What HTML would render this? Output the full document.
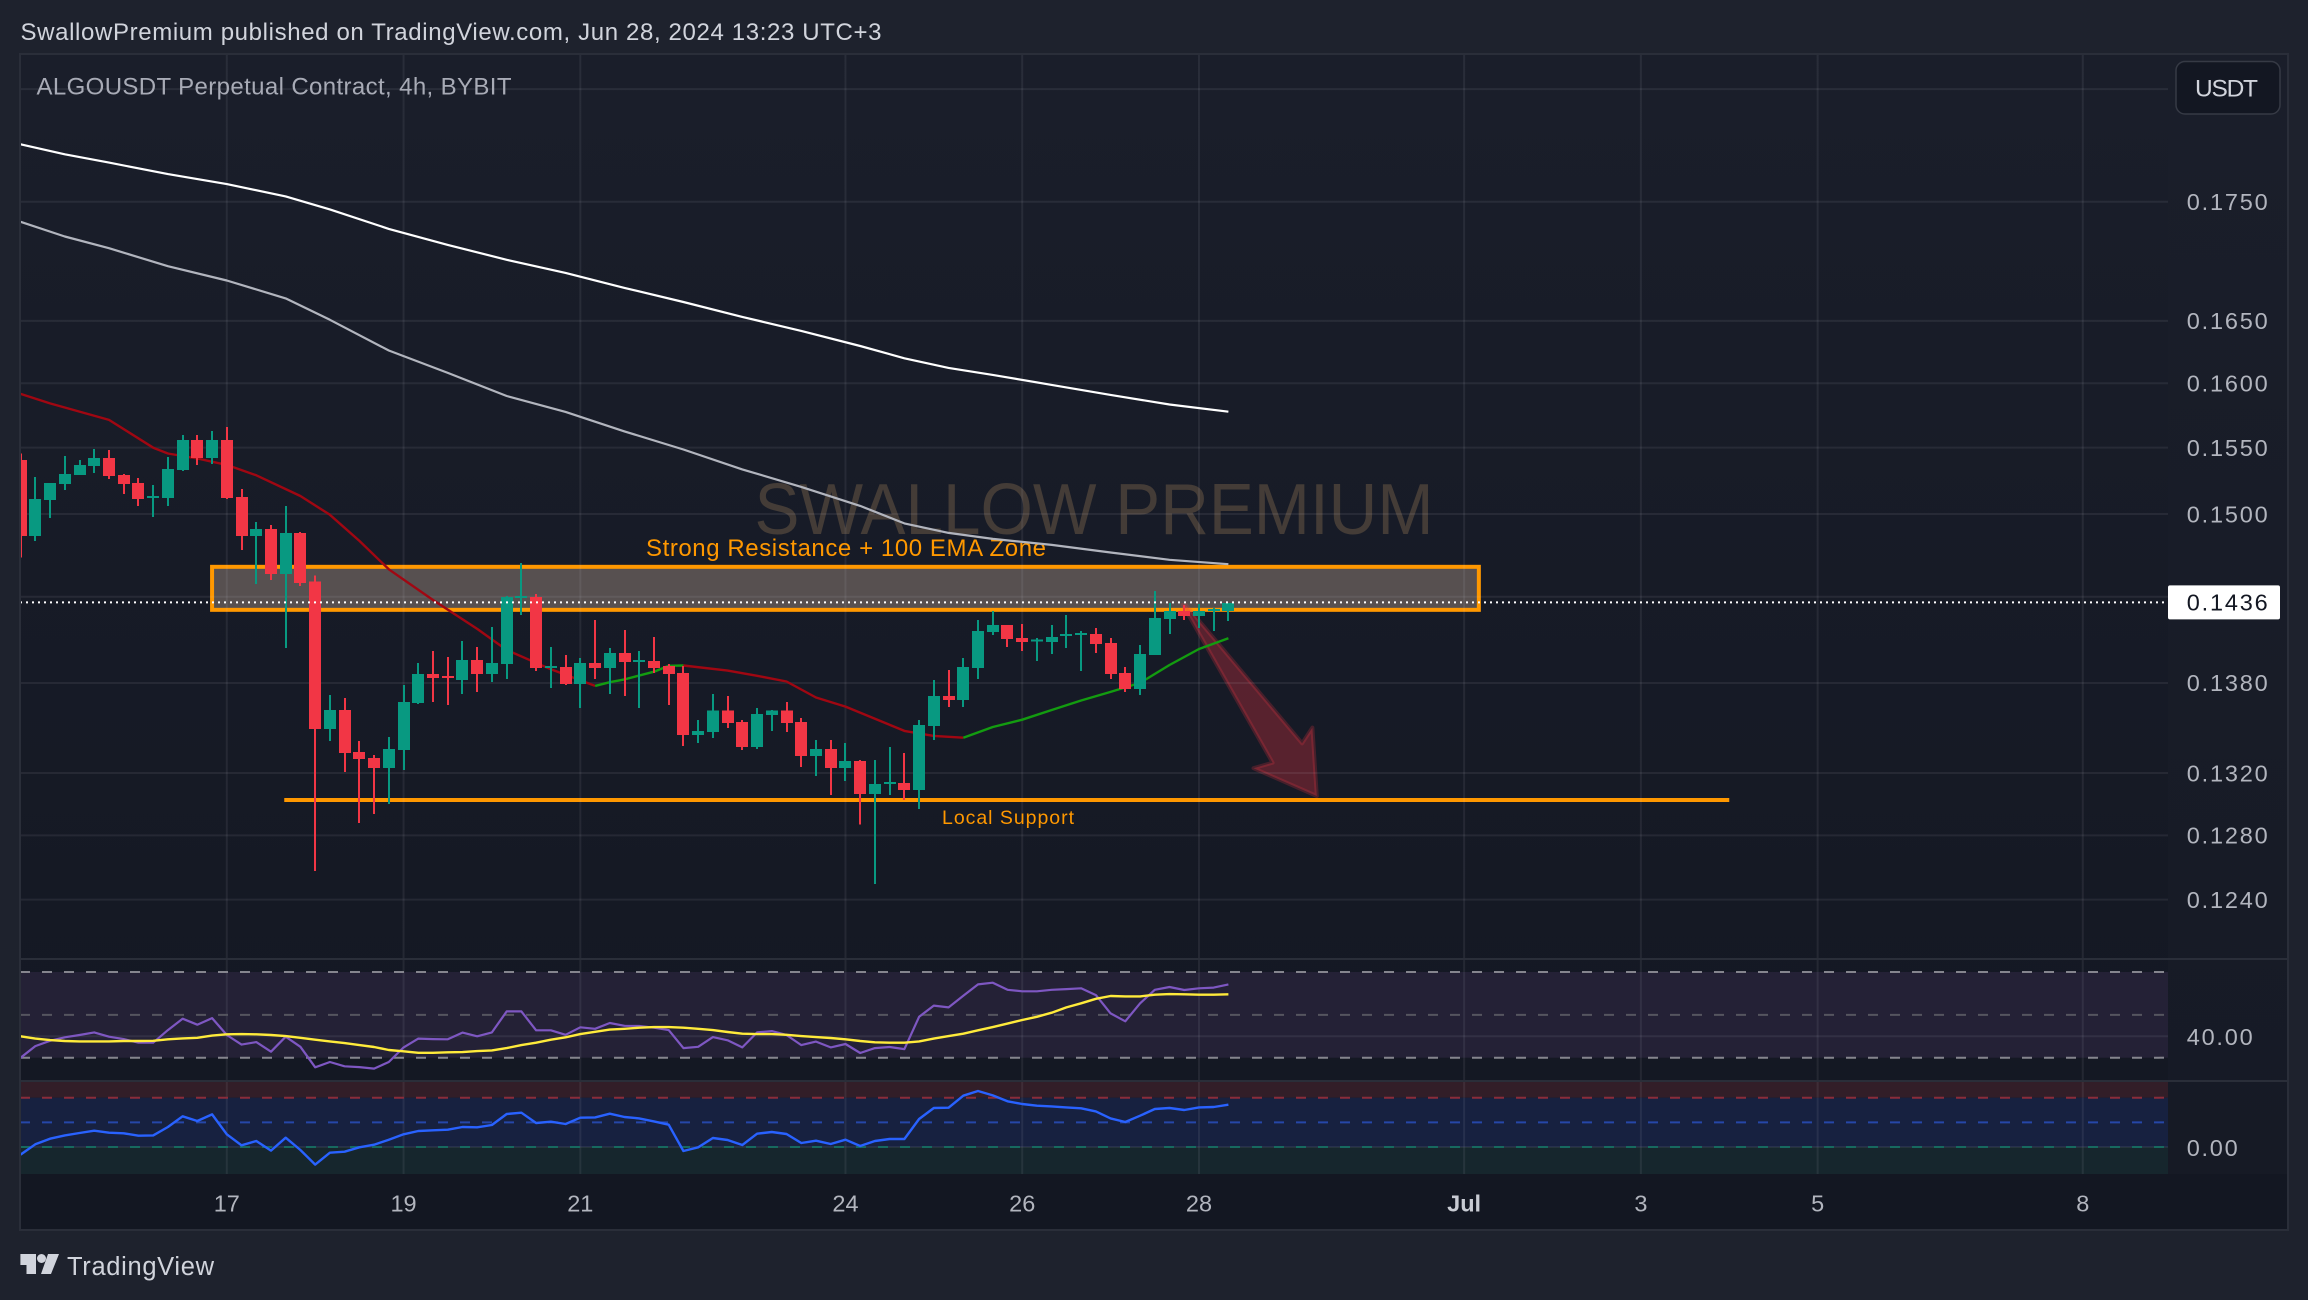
<!DOCTYPE html>
<html lang="en">
<head>
<meta charset="utf-8">
<title>ALGOUSDT Perpetual Contract, 4h, BYBIT</title>
<style>
html,body{margin:0;padding:0;background:#1e222d;width:2308px;height:1300px;overflow:hidden}
svg{display:block}
text{font-family:"Liberation Sans",sans-serif}
</style>
</head>
<body>
<svg id="chart" width="2308" height="1300" viewBox="0 0 2308 1300" xmlns="http://www.w3.org/2000/svg">
  <defs>
    <linearGradient id="paneBg" x1="0" y1="0" x2="0" y2="1">
      <stop offset="0" stop-color="#1a1e2a"/>
      <stop offset="1" stop-color="#131722"/>
    </linearGradient>
    <linearGradient id="axisBg" x1="0" y1="0" x2="0" y2="1">
      <stop offset="0" stop-color="#1a1e2a"/>
      <stop offset="1" stop-color="#161a25"/>
    </linearGradient>
    <clipPath id="mainClip"><rect x="20" y="55" width="2148" height="904"/></clipPath>
    <clipPath id="rsiClip"><rect x="20" y="960" width="2148" height="120"/></clipPath>
    <clipPath id="oscClip"><rect x="20" y="1082" width="2148" height="92"/></clipPath>
  </defs>

  <rect x="0" y="0" width="2308" height="1300" fill="#1e222d"/>
  <rect x="20" y="54" width="2268" height="1176" fill="url(#paneBg)"/>
  <rect x="2168" y="55" width="120" height="1119" fill="url(#axisBg)"/>
  <rect x="20" y="1174" width="2268" height="56" fill="#131722"/>

  <g id="bands"></g>
  <text x="754.5" y="534" font-size="72" fill="#443c37" textLength="679" lengthAdjust="spacingAndGlyphs">SWALLOW PREMIUM</text>
  <g id="drawings" clip-path="url(#mainClip)"></g>
  <g id="grid"></g>
  <g id="levels"></g>

  <text x="646" y="556" font-size="24" fill="#ff9800" textLength="400">Strong Resistance + 100 EMA Zone</text>
  <text x="942" y="824" font-size="19.5" fill="#ff9800" textLength="132">Local Support</text>

  <g id="emaLines" clip-path="url(#mainClip)"></g>
  <g id="candles" clip-path="url(#mainClip)" shape-rendering="crispEdges"></g>
  <g id="lastLine"></g>
  <g id="rsiPane" clip-path="url(#rsiClip)"></g>
  <g id="oscPane" clip-path="url(#oscClip)"></g>
  <g id="priceAxis"></g>
  <g id="timeAxis"></g>

  <g stroke="#2a2e39" stroke-width="2" fill="none">
    <rect x="20" y="54" width="2268" height="1176"/>
    <line x1="20" y1="959" x2="2288" y2="959"/>
    <line x1="20" y1="1081" x2="2288" y2="1081"/>
  </g>

  <text x="20.5" y="40" font-size="24" fill="#d1d4dc" textLength="861">SwallowPremium published on TradingView.com, Jun 28, 2024 13:23 UTC+3</text>
  <text x="36.5" y="94.5" font-size="24" fill="#a8abb6" textLength="475">ALGOUSDT Perpetual Contract, 4h, BYBIT</text>

  <g>
    <rect x="2176" y="61.5" width="104" height="52.5" rx="9" fill="#131722" stroke="#363a45" stroke-width="1.5"/>
    <text x="2195" y="96.5" font-size="24.5" fill="#d1d4dc" textLength="63">USDT</text>
  </g>

  <g fill="#d1d4dc">
    <polygon points="20.4,1254 36,1254 36,1274 26.5,1274 26.5,1265 20.4,1265"/>
    <circle cx="41.5" cy="1258.5" r="4.5"/>
    <polygon points="48,1254 59,1254 51,1274 41,1274"/>
    <text x="67" y="1275" font-size="25.5" textLength="147">TradingView</text>
  </g>

<script>
// ---- candle data (ALGOUSDT 4h), first bar index relative to 17 Jun 00:00 ----
const firstBar = -14;
const opens = [.15406,.14839,.15104,.15225,.15293,.15361,.15421,.15293,.15232,.15119,.15119,.15331,.15558,.15421,.15558,.15127,.14839,.14890,.14564,.14861,.14507,.13490,.13617,.13337,.13298,.13233,.13350,.13664,.13862,.13848,.13821,.13958,.13862,.13930,.14391,.14399,.13903,.13910,.13793,.13937,.13903,.14005,.13944,.13951,.13917,.13869,.13450,.13470,.13613,.13537,.13370,.13583,.13613,.13537,.13311,.13357,.13233,.13279,.13064,.13129,.13135,.13090,.13510,.13711,.13684,.13903,.14152,.14201,.14110,.14085,.14082,.14124,.14131,.14138,.14075,.13869,.13759,.13992,.14244,.14300,.14265,.14300,.14300];
const highs = [.15456,.15275,.15232,.15436,.15406,.15489,.15481,.15300,.15270,.15217,.15429,.15597,.15597,.15628,.15659,.15187,.14942,.14920,.15060,.14868,.14550,.13718,.13698,.13410,.13317,.13437,.13786,.13937,.14019,.13978,.14089,.14047,.14187,.14406,.14643,.14420,.14047,.13992,.13971,.14237,.14040,.14166,.14019,.14117,.13930,.13917,.13550,.13725,.13711,.13550,.13630,.13617,.13671,.13564,.13417,.13417,.13397,.13285,.13285,.13370,.13330,.13550,.13821,.13889,.13971,.14237,.14300,.14201,.14208,.14110,.14201,.14272,.14159,.14180,.14110,.13910,.14061,.14442,.14356,.14342,.14349,.14321,.14356];
const lows = [.14681,.14803,.14972,.15179,.15293,.15308,.15263,.15149,.15060,.14979,.15060,.15323,.15368,.15376,.15112,.14736,.14492,.14521,.14040,.14478,.12577,.13410,.13207,.12879,.12936,.13000,.13220,.13657,.13671,.13651,.13725,.13739,.13807,.13827,.14272,.13882,.13766,.13787,.13630,.13828,.13725,.13711,.13630,.13869,.13651,.13377,.13397,.13430,.13497,.13350,.13357,.13477,.13470,.13239,.13181,.13058,.13148,.12870,.12497,.13058,.13025,.12968,.13417,.13637,.13637,.13828,.14131,.14047,.14019,.13951,.13999,.14040,.13883,.14005,.13828,.13739,.13718,.13992,.14138,.14237,.14180,.14159,.14230];
const closes = [.14839,.15112,.15232,.15300,.15368,.15421,.15285,.15225,.15112,.15134,.15338,.15558,.15421,.15558,.15119,.14839,.14890,.14564,.14861,.14499,.13490,.13617,.13330,.13291,.13233,.13357,.13671,.13862,.13834,.13834,.13958,.13862,.13937,.14399,.14406,.13903,.13917,.13793,.13937,.13903,.14005,.13944,.13958,.13903,.13862,.13450,.13477,.13613,.13531,.13370,.13591,.13613,.13531,.13311,.13357,.13233,.13279,.13064,.13129,.13142,.13090,.13517,.13711,.13684,.13910,.14159,.14201,.14103,.14082,.14099,.14117,.14138,.14145,.14068,.13862,.13759,.13999,.14251,.14300,.14265,.14300,.14314,.14356];

// ---- moving averages ----
const emaBars = [-14,-11,-8,-4,0,4,7,11,15,19,23,27,31,35,39,43,46,49,52,56,60,64,68];
const ema200 = [.18003,.17914,.17841,.17740,.17653,.17546,.17434,.17267,.17131,.17005,.16896,.16771,.16655,.16533,.16419,.16297,.16198,.16122,.16066,.15987,.15908,.15833,.15777];
const ema100 = [.17327,.17202,.17103,.16952,.16832,.16684,.16509,.16261,.16082,.15900,.15775,.15624,.15485,.15334,.15202,.15060,.14931,.14861,.14817,.14773,.14718,.14665,.14633];
const ema50Bars = [-14,-12,-8,-5,-4,-2,0,2,5,7,9,11,14,17,19,22,25,26,27,29,30,31,34,36,38,40,42,46,48,50,52,54,56,58,60,62,64,66,68];
const ema50 = [.15916,.15842,.15713,.15499,.15455,.15417,.15368,.15289,.15134,.14994,.14802,.14596,.14377,.14173,.14026,.13893,.13780,.13805,.13824,.13877,.13917,.13919,.13884,.13849,.13810,.13701,.13640,.13477,.13444,.13432,.13503,.13552,.13617,.13681,.13739,.13800,.13923,.14033,.14108];

// ---- indicators (one value per bar) ----
const rsiValues = [30.0,35.4,37.9,39.5,40.6,41.8,39.8,38.7,37.0,37.0,42.9,48.2,45.4,48.5,40.6,36.1,37.3,32.8,39.8,35.1,25.5,28.0,26.0,25.6,24.9,28.0,34.8,38.9,38.7,38.6,41.7,40.0,41.8,51.6,51.6,42.8,42.8,40.7,44.2,43.5,46.2,44.9,44.8,44.0,42.9,34.5,35.1,39.6,38.1,34.8,41.8,42.4,40.6,35.9,37.5,34.8,36.4,32.2,34.5,35.0,34.0,49.1,54.3,53.5,58.9,64.2,65.0,61.7,61.0,61.0,61.7,62.0,62.4,59.2,50.7,47.0,55.4,61.7,63.0,61.6,62.4,62.7,64.2];
const rsiSignal = [40.0,38.9,38.2,37.8,37.6,37.6,37.6,37.8,37.8,37.9,38.6,39.0,39.3,40.3,40.9,41.0,40.9,40.6,40.1,39.3,38.4,37.6,36.8,35.9,35.0,33.6,33.0,32.3,32.3,32.5,32.6,33.1,33.4,34.5,35.9,37.0,38.4,39.5,41.0,42.1,43.1,43.5,44.0,44.3,44.3,44.0,43.5,42.9,42.0,41.2,41.0,41.0,40.7,40.1,39.6,39.2,38.6,37.8,37.2,37.0,37.0,37.6,38.9,40.1,41.2,42.8,44.3,45.9,47.6,49.1,51.0,53.5,55.4,57.5,58.8,58.6,58.6,59.4,59.7,59.6,59.4,59.4,59.6];
const oscValues = [-15.5,5.4,16.9,23.6,28.4,33.1,29.1,27.7,23.0,23.6,40.5,62.2,52.7,66.2,25.7,3.4,12.2,-7.4,18.9,-6.1,-35.8,-11.5,-9.5,-0.7,4.7,14.9,25.7,32.4,33.8,35.1,40.5,39.9,44.6,66.9,69.6,48.6,51.4,46.6,59.5,60.1,67.6,60.8,58.1,52.0,45.3,-8.1,-0.7,18.2,14.2,4.1,27.0,30.4,26.4,8.1,12.8,6.1,14.9,2.0,12.2,16.2,16.2,56.8,79.1,79.7,104.1,113.5,104.7,92.6,87.2,83.8,82.4,80.4,78.4,72.3,58.1,50.7,63.5,77.0,79.1,75.0,80.4,81.1,85.8];

// ---- axes ----
const gridPrices = [.185,.175,.165,.16,.155,.15,.144,.138,.132,.128,.124];
const priceTicks = [.175,.165,.16,.155,.15,.138,.132,.128,.124];
const timeDays = [17,19,21,24,26,28,31,33,35,38];
const timeLabels = ['17','19','21','24','26','28','Jul','3','5','8'];
const rsiTicks = [40];
const oscTicks = [0];
const rsiBandLevels = [70,30];
const rsiLevels = [70,50,30];
const oscLevels = [100,50,0];

// ---- drawings in bar/price units ----
const lastPrice = 0.1436;
const zoneBars = [-1,85];
const zonePrices = [.14614,.14307];
const supportBars = [3.9,102];
const supportPrice = 0.13025;
const arrowBars = [65.1,73,73.7,74,69.7,71,64.9];
const arrowPrices = [.14342,.13395,.13499,.13051,.13231,.13267,.14342];

const NS = 'http://www.w3.org/2000/svg';
function xDay(d){ return 226.8 + (d - 17) * 88.38; }
function xBar(b){ return xDay(17 + b / 6); }
function yPrice(p){ return 201.7 + 2026 * Math.log(0.175 / p); }
function yRsi(v){ return 1057.7 - (v - 30) * 2.1425; }
function yOsc(v){ return 1147 - v * 0.493; }
function make(parent, tag, attrs, txt){
  const el = document.createElementNS(NS, tag);
  for (const k in attrs) el.setAttribute(k, attrs[k]);
  if (txt !== undefined) el.textContent = txt;
  parent.appendChild(el);
  return el;
}
function pathOf(xs, ys){
  return xs.map((x, i) => (i ? 'L' : 'M') + x.toFixed(1) + ' ' + ys[i].toFixed(1)).join('');
}
const byId = id => document.getElementById(id);
const allBars = opens.map((_, i) => firstBar + i);

// bands
const bandsG = byId('bands');
let el = make(bandsG, 'rect', {x:20, y:yRsi(rsiBandLevels[0]), width:2148, height:yRsi(rsiBandLevels[1]) - yRsi(rsiBandLevels[0]), fill:'#242136'});


el = make(bandsG, 'rect', {x:20, y:1082, width:2148, height:yOsc(oscLevels[0]) - 1082, fill:'#321e28'});


el = make(bandsG, 'rect', {x:20, y:yOsc(oscLevels[0]), width:2148, height:yOsc(oscLevels[2]) - yOsc(oscLevels[0]), fill:'#172140'});


el = make(bandsG, 'rect', {x:20, y:yOsc(oscLevels[2]), width:2148, height:1174 - yOsc(oscLevels[2]), fill:'#16262d'});



// drawings (below candles)
const drawG = byId('drawings');
el = make(drawG, 'rect', {x:xBar(zoneBars[0]), y:yPrice(zonePrices[0]), width:xBar(zoneBars[1]) - xBar(zoneBars[0]), height:yPrice(zonePrices[1]) - yPrice(zonePrices[0]), fill:'rgba(235,205,180,0.3)', stroke:'#ff9800', 'stroke-width':4});


el = make(drawG, 'line', {x1:xBar(supportBars[0]), x2:xBar(supportBars[1]), y1:yPrice(supportPrice), y2:yPrice(supportPrice), stroke:'#ff9800', 'stroke-width':4});


el = make(drawG, 'polygon', {points:arrowBars.map((b, i) => xBar(b).toFixed(1) + ',' + yPrice(arrowPrices[i]).toFixed(1)).join(' '), fill:'rgba(242,54,69,0.3)', stroke:'rgba(242,54,69,0.22)', 'stroke-width':4, 'stroke-linejoin':'round'});



// grid
const gridG = byId('grid');
const gridColor = 'rgba(209,212,220,0.085)';
gridPrices.forEach(p => {
  const g = make(gridG, 'line', {x1:20, x2:2168, y1:yPrice(p), y2:yPrice(p), stroke:gridColor, 'stroke-width':2});
  
  
});
timeDays.forEach(d => {
  const g = make(gridG, 'line', {x1:xDay(d), x2:xDay(d), y1:54, y2:1174, stroke:gridColor, 'stroke-width':2});
  
  
});
rsiTicks.forEach(v => {
  const g = make(gridG, 'line', {x1:20, x2:2168, y1:yRsi(v), y2:yRsi(v), stroke:gridColor, 'stroke-width':2});
  
  
});
oscTicks.forEach(v => {
  const g = make(gridG, 'line', {x1:20, x2:2168, y1:yOsc(v), y2:yOsc(v), stroke:gridColor, 'stroke-width':2});
  
  
});

// indicator level dashes
const levelG = byId('levels');
const rsiLevelColors = ['#85858e','#55555f','#85858e'];
rsiLevels.forEach((v, i) => {
  const l = make(levelG, 'line', {x1:20, x2:2168, y1:yRsi(v), y2:yRsi(v), stroke:rsiLevelColors[i], 'stroke-width':2, 'stroke-dasharray':'10 12'});
  
  
});
const oscLevelColors = ['#8a2c3a','#2647a8','#17695f'];
oscLevels.forEach((v, i) => {
  const l = make(levelG, 'line', {x1:20, x2:2168, y1:yOsc(v), y2:yOsc(v), stroke:oscLevelColors[i], 'stroke-width':2, 'stroke-dasharray':'10 12'});
  
  
});

// EMAs
const emaG = byId('emaLines');
el = make(emaG, 'path', {d:pathOf(emaBars.map(xBar), ema200.map(yPrice)), fill:'none', stroke:'#ffffff', 'stroke-width':2.2, 'stroke-linejoin':'round'});


el = make(emaG, 'path', {d:pathOf(emaBars.map(xBar), ema100.map(yPrice)), fill:'none', stroke:'#b2b5be', 'stroke-width':2.2, 'stroke-linejoin':'round'});


// EMA 50 is coloured by slope: green while rising, red while falling
let runStart = 0;
for (let i = 1; i < ema50.length; i++) {
  const rising = ema50[i] >= ema50[i - 1];
  const nextRising = i + 1 < ema50.length ? ema50[i + 1] >= ema50[i] : rising;
  if (i === ema50.length - 1 || nextRising !== rising) {
    const seg = make(emaG, 'path', {
      d: pathOf(ema50Bars.slice(runStart, i + 1).map(xBar), ema50.slice(runStart, i + 1).map(yPrice)),
      fill:'none', stroke: rising ? '#139c10' : '#a00712', 'stroke-width':2.4, 'stroke-linejoin':'round'
    });
    
    
    runStart = i;
  }
}

// candles
const candleG = byId('candles');
allBars.forEach((b, i) => {
  const up = closes[i] >= opens[i];
  const color = up ? '#089981' : '#f23645';
  const x = Math.round(xBar(b));
  const top = yPrice(Math.max(opens[i], closes[i]));
  const bot = yPrice(Math.min(opens[i], closes[i]));
  const grp = make(candleG, 'g', {fill:color});
  
  
  const wick = make(grp, 'rect', {x:x - 1, width:2, y:yPrice(highs[i]), height:yPrice(lows[i]) - yPrice(highs[i])});
  
  
  const body = make(grp, 'rect', {x:x - 6, width:12, y:top, height:Math.max(2, bot - top)});
  
  
});

// last price line
el = make(byId('lastLine'), 'line', {x1:20, x2:2168, y1:yPrice(lastPrice), y2:yPrice(lastPrice), stroke:'#ffffff', 'stroke-width':2, 'stroke-dasharray':'2 4'});



// RSI pane
el = make(byId('rsiPane'), 'path', {d:pathOf(allBars.map(xBar), rsiValues.map(yRsi)), fill:'none', stroke:'#7e57c2', 'stroke-width':2.2, 'stroke-linejoin':'round'});


el = make(byId('rsiPane'), 'path', {d:pathOf(allBars.map(xBar), rsiSignal.map(yRsi)), fill:'none', stroke:'#ffeb3b', 'stroke-width':2.4, 'stroke-linejoin':'round'});



// oscillator pane
el = make(byId('oscPane'), 'path', {d:pathOf(allBars.map(xBar), oscValues.map(yOsc)), fill:'none', stroke:'#2962ff', 'stroke-width':2.4, 'stroke-linejoin':'round'});



// price axis
const axisG = byId('priceAxis');
const axisColor = '#b2b5be';
function axisWidth(s){ return 15 * (s.length - 1) + 6; }
priceTicks.forEach(p => {
  const s = p.toFixed(4);
  const t = make(axisG, 'text', {x:2186.7, y:yPrice(p) + 8.3, 'font-size':23.5, fill:axisColor, textLength:axisWidth(s)}, s);
  
  
});
rsiTicks.forEach(v => {
  const s = v.toFixed(2);
  const t = make(axisG, 'text', {x:2186.7, y:yRsi(v) + 8.7, 'font-size':23.5, fill:axisColor, textLength:axisWidth(s)}, s);
  
  
});
oscTicks.forEach(v => {
  const s = v.toFixed(2);
  const t = make(axisG, 'text', {x:2186.7, y:yOsc(v) + 9, 'font-size':23.5, fill:axisColor, textLength:axisWidth(s)}, s);
  
  
});
el = make(axisG, 'rect', {x:2168, y:yPrice(lastPrice) - 17, width:112, height:34, rx:2, fill:'#ffffff'});


el = make(axisG, 'text', {x:2186.7, y:yPrice(lastPrice) + 8.3, 'font-size':23.5, fill:'#131722', textLength:axisWidth(lastPrice.toFixed(4))}, lastPrice.toFixed(4));



// time axis
const timeG = byId('timeAxis');
timeDays.forEach((d, i) => {
  const label = timeLabels[i];
  const isMonth = label === 'Jul';
  const t = make(timeG, 'text', {x:xDay(d), y:1211.7, 'font-size':23.5, 'text-anchor':'middle', fill: isMonth ? '#c8cbd3' : axisColor, 'font-weight': isMonth ? 'bold' : 'normal'}, label);
  
  
});
</script>
</svg>
</body>
</html>
